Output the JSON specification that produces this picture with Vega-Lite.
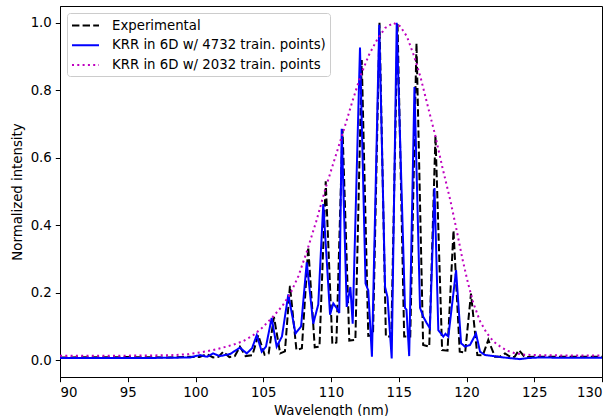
{
  "$schema": "https://vega.github.io/schema/vega-lite/v6.json",
  "width": 542,
  "height": 371,
  "autosize": {"type": "none"},
  "padding": {"left": 60, "top": 6, "right": 12, "bottom": 39},
  "background": "white",
  "config": {
    "view": {"stroke": "black", "strokeWidth": 1},
    "font": "DejaVu Sans",
    "axis": {"grid": false, "domainColor": "black", "tickColor": "black", "labelColor": "black", "titleColor": "black", "labelFont": "DejaVu Sans", "titleFont": "DejaVu Sans", "labelFontSize": 13.3, "titleFontSize": 13.3, "titleFontWeight": "normal", "tickSize": 4.7, "labelPadding": 4, "domainWidth": 1, "tickWidth": 1},
    "legend": {"orient": "top-left", "offset": 7, "padding": 4, "fillColor": "rgba(255,255,255,0.8)", "strokeColor": "#cccccc", "cornerRadius": 3, "labelFont": "DejaVu Sans", "labelFontSize": 13.3, "labelColor": "black", "symbolSize": 225, "symbolStrokeWidth": 2, "symbolType": "M-1,0H2.6", "labelOffset": 24, "rowPadding": 4.7, "labelLimit": 400}
  },
  "data": {"values": [
    {"s": "Experimental", "x": 90, "y": 0.008},
    {"s": "Experimental", "x": 95, "y": 0.009},
    {"s": "Experimental", "x": 98, "y": 0.008},
    {"s": "Experimental", "x": 99.5, "y": 0.01},
    {"s": "Experimental", "x": 100.3, "y": 0.009},
    {"s": "Experimental", "x": 100.83, "y": 0.018},
    {"s": "Experimental", "x": 101.3, "y": 0.008},
    {"s": "Experimental", "x": 101.7, "y": 0.01},
    {"s": "Experimental", "x": 102.05, "y": 0.025},
    {"s": "Experimental", "x": 102.5, "y": 0.009},
    {"s": "Experimental", "x": 102.9, "y": 0.012},
    {"s": "Experimental", "x": 103.28, "y": 0.04},
    {"s": "Experimental", "x": 103.7, "y": 0.012},
    {"s": "Experimental", "x": 104.2, "y": 0.015},
    {"s": "Experimental", "x": 104.63, "y": 0.074},
    {"s": "Experimental", "x": 105.1, "y": 0.016},
    {"s": "Experimental", "x": 105.4, "y": 0.02},
    {"s": "Experimental", "x": 105.79, "y": 0.128},
    {"s": "Experimental", "x": 106.25, "y": 0.02},
    {"s": "Experimental", "x": 106.6, "y": 0.026},
    {"s": "Experimental", "x": 106.97, "y": 0.22},
    {"s": "Experimental", "x": 107.45, "y": 0.03},
    {"s": "Experimental", "x": 107.85, "y": 0.035},
    {"s": "Experimental", "x": 108.32, "y": 0.335},
    {"s": "Experimental", "x": 108.8, "y": 0.038},
    {"s": "Experimental", "x": 109.15, "y": 0.04},
    {"s": "Experimental", "x": 109.61, "y": 0.53},
    {"s": "Experimental", "x": 110.1, "y": 0.048},
    {"s": "Experimental", "x": 110.4, "y": 0.052},
    {"s": "Experimental", "x": 110.85, "y": 0.685},
    {"s": "Experimental", "x": 111.35, "y": 0.058},
    {"s": "Experimental", "x": 111.8, "y": 0.06},
    {"s": "Experimental", "x": 112.27, "y": 0.89},
    {"s": "Experimental", "x": 112.75, "y": 0.072},
    {"s": "Experimental", "x": 113.1, "y": 0.074},
    {"s": "Experimental", "x": 113.58, "y": 1.0},
    {"s": "Experimental", "x": 114.05, "y": 0.07},
    {"s": "Experimental", "x": 114.45, "y": 0.07},
    {"s": "Experimental", "x": 114.91, "y": 1.0},
    {"s": "Experimental", "x": 115.4, "y": 0.07},
    {"s": "Experimental", "x": 115.85, "y": 0.07},
    {"s": "Experimental", "x": 116.31, "y": 0.94},
    {"s": "Experimental", "x": 116.8, "y": 0.045},
    {"s": "Experimental", "x": 117.25, "y": 0.04},
    {"s": "Experimental", "x": 117.71, "y": 0.666},
    {"s": "Experimental", "x": 118.2, "y": 0.03},
    {"s": "Experimental", "x": 118.6, "y": 0.028},
    {"s": "Experimental", "x": 119.04, "y": 0.385},
    {"s": "Experimental", "x": 119.5, "y": 0.025},
    {"s": "Experimental", "x": 119.9, "y": 0.022},
    {"s": "Experimental", "x": 120.33, "y": 0.197},
    {"s": "Experimental", "x": 120.8, "y": 0.015},
    {"s": "Experimental", "x": 121.2, "y": 0.014},
    {"s": "Experimental", "x": 121.61, "y": 0.06},
    {"s": "Experimental", "x": 122.1, "y": 0.01},
    {"s": "Experimental", "x": 122.45, "y": 0.01},
    {"s": "Experimental", "x": 122.84, "y": 0.02},
    {"s": "Experimental", "x": 123.3, "y": 0.008},
    {"s": "Experimental", "x": 123.55, "y": 0.01},
    {"s": "Experimental", "x": 123.87, "y": 0.03},
    {"s": "Experimental", "x": 124.3, "y": 0.009},
    {"s": "Experimental", "x": 125, "y": 0.01},
    {"s": "Experimental", "x": 130, "y": 0.01},

    {"s": "KRR in 6D w/ 4732 train. points)", "x": 90, "y": 0.006},
    {"s": "KRR in 6D w/ 4732 train. points)", "x": 95, "y": 0.006},
    {"s": "KRR in 6D w/ 4732 train. points)", "x": 98, "y": 0.007},
    {"s": "KRR in 6D w/ 4732 train. points)", "x": 99.6, "y": 0.008},
    {"s": "KRR in 6D w/ 4732 train. points)", "x": 100.33, "y": 0.015},
    {"s": "KRR in 6D w/ 4732 train. points)", "x": 100.85, "y": 0.01},
    {"s": "KRR in 6D w/ 4732 train. points)", "x": 101.3, "y": 0.02},
    {"s": "KRR in 6D w/ 4732 train. points)", "x": 101.8, "y": 0.012},
    {"s": "KRR in 6D w/ 4732 train. points)", "x": 102.55, "y": 0.018},
    {"s": "KRR in 6D w/ 4732 train. points)", "x": 103.28, "y": 0.037},
    {"s": "KRR in 6D w/ 4732 train. points)", "x": 103.78, "y": 0.02},
    {"s": "KRR in 6D w/ 4732 train. points)", "x": 104.17, "y": 0.035},
    {"s": "KRR in 6D w/ 4732 train. points)", "x": 104.52, "y": 0.074},
    {"s": "KRR in 6D w/ 4732 train. points)", "x": 104.89, "y": 0.025},
    {"s": "KRR in 6D w/ 4732 train. points)", "x": 105.2, "y": 0.04},
    {"s": "KRR in 6D w/ 4732 train. points)", "x": 105.62, "y": 0.125},
    {"s": "KRR in 6D w/ 4732 train. points)", "x": 105.99, "y": 0.04},
    {"s": "KRR in 6D w/ 4732 train. points)", "x": 106.38, "y": 0.07},
    {"s": "KRR in 6D w/ 4732 train. points)", "x": 106.85, "y": 0.195},
    {"s": "KRR in 6D w/ 4732 train. points)", "x": 107.38, "y": 0.079},
    {"s": "KRR in 6D w/ 4732 train. points)", "x": 107.79, "y": 0.1},
    {"s": "KRR in 6D w/ 4732 train. points)", "x": 108.21, "y": 0.29},
    {"s": "KRR in 6D w/ 4732 train. points)", "x": 108.69, "y": 0.108},
    {"s": "KRR in 6D w/ 4732 train. points)", "x": 109.06, "y": 0.165},
    {"s": "KRR in 6D w/ 4732 train. points)", "x": 109.43, "y": 0.463},
    {"s": "KRR in 6D w/ 4732 train. points)", "x": 109.93, "y": 0.135},
    {"s": "KRR in 6D w/ 4732 train. points)", "x": 110.17, "y": 0.168},
    {"s": "KRR in 6D w/ 4732 train. points)", "x": 110.41, "y": 0.155},
    {"s": "KRR in 6D w/ 4732 train. points)", "x": 110.61, "y": 0.14},
    {"s": "KRR in 6D w/ 4732 train. points)", "x": 110.79, "y": 0.686},
    {"s": "KRR in 6D w/ 4732 train. points)", "x": 111.16, "y": 0.158},
    {"s": "KRR in 6D w/ 4732 train. points)", "x": 111.43, "y": 0.217},
    {"s": "KRR in 6D w/ 4732 train. points)", "x": 111.6, "y": 0.108},
    {"s": "KRR in 6D w/ 4732 train. points)", "x": 112.14, "y": 0.927},
    {"s": "KRR in 6D w/ 4732 train. points)", "x": 112.55, "y": 0.227},
    {"s": "KRR in 6D w/ 4732 train. points)", "x": 112.75, "y": 0.207},
    {"s": "KRR in 6D w/ 4732 train. points)", "x": 113.02, "y": 0.01},
    {"s": "KRR in 6D w/ 4732 train. points)", "x": 113.56, "y": 0.994},
    {"s": "KRR in 6D w/ 4732 train. points)", "x": 113.99, "y": 0.217},
    {"s": "KRR in 6D w/ 4732 train. points)", "x": 114.17, "y": 0.187},
    {"s": "KRR in 6D w/ 4732 train. points)", "x": 114.48, "y": 0.005},
    {"s": "KRR in 6D w/ 4732 train. points)", "x": 114.85, "y": 1.0},
    {"s": "KRR in 6D w/ 4732 train. points)", "x": 115.46, "y": 0.155},
    {"s": "KRR in 6D w/ 4732 train. points)", "x": 115.57, "y": 0.15},
    {"s": "KRR in 6D w/ 4732 train. points)", "x": 115.77, "y": 0.012},
    {"s": "KRR in 6D w/ 4732 train. points)", "x": 116.16, "y": 0.81},
    {"s": "KRR in 6D w/ 4732 train. points)", "x": 116.57, "y": 0.155},
    {"s": "KRR in 6D w/ 4732 train. points)", "x": 116.82, "y": 0.128},
    {"s": "KRR in 6D w/ 4732 train. points)", "x": 117.06, "y": 0.11},
    {"s": "KRR in 6D w/ 4732 train. points)", "x": 117.3, "y": 0.095},
    {"s": "KRR in 6D w/ 4732 train. points)", "x": 117.64, "y": 0.51},
    {"s": "KRR in 6D w/ 4732 train. points)", "x": 117.92, "y": 0.089},
    {"s": "KRR in 6D w/ 4732 train. points)", "x": 118.29, "y": 0.07},
    {"s": "KRR in 6D w/ 4732 train. points)", "x": 118.45, "y": 0.078},
    {"s": "KRR in 6D w/ 4732 train. points)", "x": 118.66, "y": 0.07},
    {"s": "KRR in 6D w/ 4732 train. points)", "x": 119.23, "y": 0.266},
    {"s": "KRR in 6D w/ 4732 train. points)", "x": 119.6, "y": 0.05},
    {"s": "KRR in 6D w/ 4732 train. points)", "x": 119.89, "y": 0.04},
    {"s": "KRR in 6D w/ 4732 train. points)", "x": 120.26, "y": 0.045},
    {"s": "KRR in 6D w/ 4732 train. points)", "x": 120.7, "y": 0.079},
    {"s": "KRR in 6D w/ 4732 train. points)", "x": 121.0, "y": 0.025},
    {"s": "KRR in 6D w/ 4732 train. points)", "x": 121.37, "y": 0.015},
    {"s": "KRR in 6D w/ 4732 train. points)", "x": 122.0, "y": 0.012},
    {"s": "KRR in 6D w/ 4732 train. points)", "x": 122.72, "y": 0.008},
    {"s": "KRR in 6D w/ 4732 train. points)", "x": 123.95, "y": 0.003},
    {"s": "KRR in 6D w/ 4732 train. points)", "x": 124.5, "y": 0.006},
    {"s": "KRR in 6D w/ 4732 train. points)", "x": 125.42, "y": 0.008},
    {"s": "KRR in 6D w/ 4732 train. points)", "x": 127, "y": 0.007},
    {"s": "KRR in 6D w/ 4732 train. points)", "x": 130, "y": 0.007},

    {"s": "KRR in 6D w/ 2032 train. points", "x": 90, "y": 0.013},
    {"s": "KRR in 6D w/ 2032 train. points", "x": 94, "y": 0.013},
    {"s": "KRR in 6D w/ 2032 train. points", "x": 97, "y": 0.014},
    {"s": "KRR in 6D w/ 2032 train. points", "x": 98.5, "y": 0.015},
    {"s": "KRR in 6D w/ 2032 train. points", "x": 99.5, "y": 0.018},
    {"s": "KRR in 6D w/ 2032 train. points", "x": 100.5, "y": 0.024},
    {"s": "KRR in 6D w/ 2032 train. points", "x": 101.3, "y": 0.03},
    {"s": "KRR in 6D w/ 2032 train. points", "x": 102, "y": 0.037},
    {"s": "KRR in 6D w/ 2032 train. points", "x": 102.8, "y": 0.046},
    {"s": "KRR in 6D w/ 2032 train. points", "x": 103.5, "y": 0.056},
    {"s": "KRR in 6D w/ 2032 train. points", "x": 104.2, "y": 0.072},
    {"s": "KRR in 6D w/ 2032 train. points", "x": 104.9, "y": 0.095},
    {"s": "KRR in 6D w/ 2032 train. points", "x": 105.7, "y": 0.128},
    {"s": "KRR in 6D w/ 2032 train. points", "x": 106.4, "y": 0.16},
    {"s": "KRR in 6D w/ 2032 train. points", "x": 107, "y": 0.197},
    {"s": "KRR in 6D w/ 2032 train. points", "x": 107.6, "y": 0.25},
    {"s": "KRR in 6D w/ 2032 train. points", "x": 108.2, "y": 0.32},
    {"s": "KRR in 6D w/ 2032 train. points", "x": 108.9, "y": 0.41},
    {"s": "KRR in 6D w/ 2032 train. points", "x": 109.6, "y": 0.51},
    {"s": "KRR in 6D w/ 2032 train. points", "x": 110.3, "y": 0.6},
    {"s": "KRR in 6D w/ 2032 train. points", "x": 111, "y": 0.69},
    {"s": "KRR in 6D w/ 2032 train. points", "x": 111.6, "y": 0.77},
    {"s": "KRR in 6D w/ 2032 train. points", "x": 112.2, "y": 0.845},
    {"s": "KRR in 6D w/ 2032 train. points", "x": 112.8, "y": 0.905},
    {"s": "KRR in 6D w/ 2032 train. points", "x": 113.4, "y": 0.95},
    {"s": "KRR in 6D w/ 2032 train. points", "x": 114, "y": 0.985},
    {"s": "KRR in 6D w/ 2032 train. points", "x": 114.6, "y": 1.0},
    {"s": "KRR in 6D w/ 2032 train. points", "x": 115.1, "y": 0.99},
    {"s": "KRR in 6D w/ 2032 train. points", "x": 115.6, "y": 0.96},
    {"s": "KRR in 6D w/ 2032 train. points", "x": 116.1, "y": 0.905},
    {"s": "KRR in 6D w/ 2032 train. points", "x": 116.6, "y": 0.84},
    {"s": "KRR in 6D w/ 2032 train. points", "x": 117.1, "y": 0.76},
    {"s": "KRR in 6D w/ 2032 train. points", "x": 117.7, "y": 0.665},
    {"s": "KRR in 6D w/ 2032 train. points", "x": 118.2, "y": 0.575},
    {"s": "KRR in 6D w/ 2032 train. points", "x": 118.8, "y": 0.475},
    {"s": "KRR in 6D w/ 2032 train. points", "x": 119.3, "y": 0.38},
    {"s": "KRR in 6D w/ 2032 train. points", "x": 119.7, "y": 0.3},
    {"s": "KRR in 6D w/ 2032 train. points", "x": 120.1, "y": 0.23},
    {"s": "KRR in 6D w/ 2032 train. points", "x": 120.5, "y": 0.17},
    {"s": "KRR in 6D w/ 2032 train. points", "x": 121, "y": 0.115},
    {"s": "KRR in 6D w/ 2032 train. points", "x": 121.5, "y": 0.08},
    {"s": "KRR in 6D w/ 2032 train. points", "x": 122, "y": 0.055},
    {"s": "KRR in 6D w/ 2032 train. points", "x": 122.5, "y": 0.04},
    {"s": "KRR in 6D w/ 2032 train. points", "x": 123, "y": 0.028},
    {"s": "KRR in 6D w/ 2032 train. points", "x": 123.6, "y": 0.02},
    {"s": "KRR in 6D w/ 2032 train. points", "x": 124.3, "y": 0.016},
    {"s": "KRR in 6D w/ 2032 train. points", "x": 125, "y": 0.015},
    {"s": "KRR in 6D w/ 2032 train. points", "x": 127, "y": 0.014},
    {"s": "KRR in 6D w/ 2032 train. points", "x": 130, "y": 0.014}
  ]},
  "encoding": {
    "x": {"field": "x", "type": "quantitative", "scale": {"domain": [90, 130], "nice": false, "zero": false}, "axis": {"values": [90, 95, 100, 105, 110, 115, 120, 125, 130], "format": "d", "title": "Wavelength (nm)", "titlePadding": 4}},
    "y": {"field": "y", "type": "quantitative", "scale": {"domain": [-0.05, 1.05], "nice": false, "zero": false}, "axis": {"values": [0, 0.2, 0.4, 0.6, 0.8, 1.0], "format": ".1f", "title": "Normalized intensity", "titlePadding": 6}},
    "color": {"field": "s", "type": "nominal", "scale": {"domain": ["Experimental", "KRR in 6D w/ 4732 train. points)", "KRR in 6D w/ 2032 train. points"], "range": ["#000000", "#0000ff", "#bf00bf"]}, "legend": {"title": null}},
    "strokeDash": {"field": "s", "type": "nominal", "scale": {"domain": ["Experimental", "KRR in 6D w/ 4732 train. points)", "KRR in 6D w/ 2032 train. points"], "range": [[7.4, 3.2], [1, 0], [2, 3.3]]}, "legend": {"title": null}}
  },
  "layer": [
    {"transform": [{"filter": "datum.s === 'Experimental'"}], "mark": {"type": "line", "strokeWidth": 2}},
    {"transform": [{"filter": "datum.s === 'KRR in 6D w/ 4732 train. points)'"}], "mark": {"type": "line", "strokeWidth": 2}},
    {"transform": [{"filter": "datum.s === 'KRR in 6D w/ 2032 train. points'"}], "mark": {"type": "line", "strokeWidth": 2}}
  ]
}
